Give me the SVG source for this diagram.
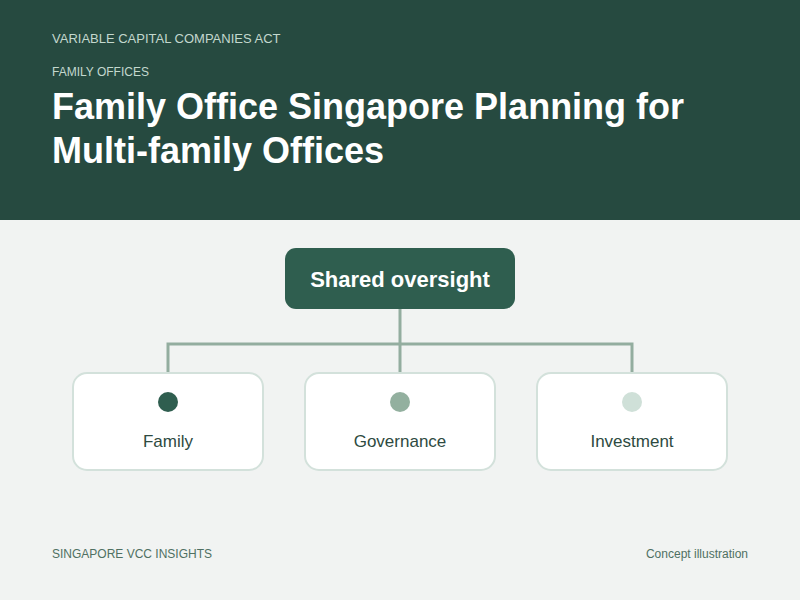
<svg xmlns="http://www.w3.org/2000/svg" width="800" height="600" viewBox="0 0 800 600">
<style>
text{font-family:"Liberation Sans",Arial,sans-serif}
.kick{fill:#c3d8ce;font-size:13px}
.kick2{fill:#c3d8ce;font-size:12px}
.title{fill:#ffffff;font-size:36px;font-weight:bold}
.box{fill:#ffffff;stroke:#d3e1db;stroke-width:2}
.lbl{fill:#2e4a41;font-size:17px;text-anchor:middle}
.conn{fill:none;stroke:#93ad9f;stroke-width:3}
.foot{fill:#4f7062;font-size:12px}
</style>
<rect x="0" y="0" width="800" height="600" fill="#f1f3f2"/>
<rect x="0" y="0" width="800" height="220" fill="#264a40"/>
<text class="kick" x="52" y="43">VARIABLE CAPITAL COMPANIES ACT</text>
<text class="kick2" x="52" y="76">FAMILY OFFICES</text>
<text class="title" x="52" y="119">Family Office Singapore Planning for</text>
<text class="title" x="52" y="163">Multi-family Offices</text>
<g id="connectors">
<path class="conn" d="M400 309 V372 M168 372 V344 H632 V372"/>
</g>
<g id="shared-oversight">
<rect x="285" y="248" width="230" height="61" rx="11" fill="#2f5e4f"/>
<text x="400" y="287" fill="#ffffff" font-size="22" font-weight="bold" text-anchor="middle">Shared oversight</text>
</g>
<g id="family">
<rect class="box" x="73" y="373" width="190" height="97" rx="14"/>
<circle cx="168" cy="402" r="10" fill="#2f5e4f"/>
<text class="lbl" x="168" y="447">Family</text>
</g>
<g id="governance">
<rect class="box" x="305" y="373" width="190" height="97" rx="14"/>
<circle cx="400" cy="402" r="10" fill="#93b09f"/>
<text class="lbl" x="400" y="447">Governance</text>
</g>
<g id="investment">
<rect class="box" x="537" y="373" width="190" height="97" rx="14"/>
<circle cx="632" cy="402" r="10" fill="#cfe0d8"/>
<text class="lbl" x="632" y="447">Investment</text>
</g>
<text class="foot" x="52" y="558">SINGAPORE VCC INSIGHTS</text>
<text class="foot" x="748" y="558" text-anchor="end">Concept illustration</text>
</svg>
